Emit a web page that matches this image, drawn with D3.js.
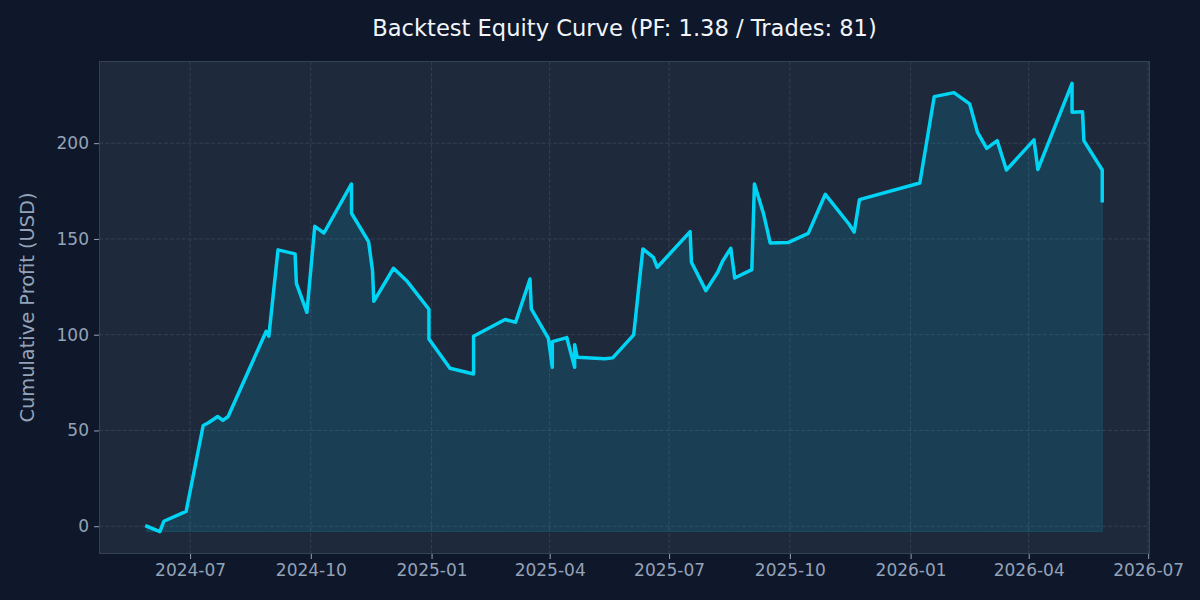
<!DOCTYPE html>
<html>
<head>
<meta charset="utf-8">
<script src="https://cdn.jsdelivr.net/npm/d3@7"></script>
<style>
    body { margin: 0; background: #0f172a; }
    svg { display: block; font-family: "DejaVu Sans", sans-serif; }
</style>
</head>
<body>
<svg id="drawing_region"></svg>
<script>
// Trade close dates and cumulative profit (USD)
const dates = [
    "2024-05-29","2024-06-08","2024-06-11","2024-06-28","2024-07-11","2024-07-15","2024-07-22","2024-07-26",
    "2024-07-30","2024-08-28","2024-08-30","2024-09-06","2024-09-19","2024-09-20","2024-09-28","2024-10-04",
    "2024-10-11","2024-11-01","2024-11-01","2024-11-14","2024-11-17","2024-11-18","2024-12-03","2024-12-13",
    "2024-12-30","2024-12-30","2025-01-15","2025-02-02","2025-02-02","2025-02-26","2025-03-06","2025-03-17",
    "2025-03-18","2025-03-31","2025-04-03","2025-04-03","2025-04-14","2025-04-20","2025-04-20","2025-04-22",
    "2025-05-13","2025-05-19","2025-06-04","2025-06-11","2025-06-19","2025-06-22","2025-07-17","2025-07-18",
    "2025-07-29","2025-08-07","2025-08-11","2025-08-17","2025-08-20","2025-09-02","2025-09-04","2025-09-11",
    "2025-09-16","2025-09-30","2025-10-15","2025-10-28","2025-11-15","2025-11-19","2025-11-23","2026-01-08",
    "2026-01-19","2026-02-03","2026-02-15","2026-02-21","2026-02-28","2026-03-08","2026-03-15","2026-04-05",
    "2026-04-08","2026-05-04","2026-05-04","2026-05-12","2026-05-13","2026-05-27","2026-05-27"
];
const profits = [
    0, -2.8, 2.6, 7.8, 52.6, 54.0, 57.3, 55.3,
    57.3, 101.8, 99.2, 144.3, 142.2, 126.8, 111.7, 156.6,
    153.1, 178.7, 163.4, 148.6, 133.5, 117.4, 134.7, 128.2,
    113.3, 97.8, 82.5, 79.5, 99.2, 107.9, 106.5, 129.1,
    113.5, 98.1, 83.0, 96.4, 98.5, 83.0, 94.8, 88.2,
    87.4, 87.9, 99.9, 144.8, 140.4, 135.2, 153.8, 137.8,
    123.0, 132.6, 138.7, 145.1, 129.6, 134.0, 178.7, 163.0,
    147.9, 148.2, 152.9, 173.3, 157.8, 153.6, 170.5, 179.2,
    224.3, 226.4, 220.5, 205.6, 197.3, 201.3, 186.0, 201.7,
    186.3, 231.2, 216.1, 216.4, 201.3, 186.0, 170.0
];
const yTicks = [0, 50, 100, 150, 200];
const xTickDates = ["2024-07-01","2024-10-01","2025-01-01","2025-04-01","2025-07-01","2025-10-01","2026-01-01","2026-04-01","2026-07-01"];

const parseDate = d3.timeParse("%Y-%m-%d");
const data = dates.map( (d, i) => ({ date: parseDate(d), value: profits[i] }) );

var config = {
    parent: '#drawing_region',
    width: 1200,
    height: 600,
    margin: {top:61, right:50, bottom:46, left:99},
    title: "Backtest Equity Curve (PF: 1.38 / Trades: 81)",
    ylabel: "Cumulative Profit (USD)"
};

class EquityChart {
    constructor( config, data ) {
        this.config = config;
        this.data = data;
        this.line_color = '#00d4f5';
        this.init();
    }

    init() {
        let self = this;
        const m = self.config.margin;

        self.svg = d3.select( self.config.parent )
            .attr('width', self.config.width)
            .attr('height', self.config.height);

        self.svg.append('rect')
            .attr('width', self.config.width)
            .attr('height', self.config.height)
            .attr('fill', '#0f172a');

        self.inner_width = self.config.width - m.left - m.right;
        self.inner_height = self.config.height - m.top - m.bottom;

        self.chart = self.svg.append('g')
            .attr('transform', `translate(${m.left}, ${m.top})`);

        self.chart.append('rect')
            .attr('width', self.inner_width)
            .attr('height', self.inner_height)
            .attr('fill', '#1e293b');

        // matplotlib style 5% margins
        const xext = d3.extent(self.data, d => d.date.getTime());
        const xpad = (xext[1] - xext[0]) * 0.05;
        self.xscale = d3.scaleTime()
            .domain( [new Date(xext[0] - xpad), new Date(xext[1] + xpad)] )
            .range( [0, self.inner_width] );

        const yext = d3.extent(self.data, d => d.value);
        const ypad = (yext[1] - yext[0]) * 0.05;
        self.yscale = d3.scaleLinear()
            .domain( [yext[0] - ypad, yext[1] + ypad] )
            .range( [self.inner_height, 0] );
        self.ymin = yext[0];

        // title is centred over the plot area
        self.svg.append("text")
            .attr("x", m.left + self.inner_width / 2)
            .attr("y", 36)
            .attr("text-anchor", "middle")
            .attr("fill", "#f1f5f9")
            .style("font-size", "22.6px")
            .text(self.config.title);

        self.svg.append("text")
            .attr('transform', 'rotate(-90)')
            .attr("x", -(m.top + self.inner_height / 2))
            .attr("y", 34)
            .attr("text-anchor", "middle")
            .attr("fill", "#94a3b8")
            .style("font-size", "19.4px")
            .text(self.config.ylabel);
    }

    render() {
        let self = this;
        const xt = xTickDates.map(parseDate);

        // grid
        self.chart.append('g').selectAll('line.vgrid')
            .data(xt)
            .join('line')
            .attr('x1', d => self.xscale(d)).attr('x2', d => self.xscale(d))
            .attr('y1', 0).attr('y2', self.inner_height)
            .attr('stroke', '#334155').attr('stroke-width', 1)
            .attr('stroke-dasharray', '4.1,1.8');
        self.chart.append('g').selectAll('line.hgrid')
            .data(yTicks)
            .join('line')
            .attr('x1', 0).attr('x2', self.inner_width)
            .attr('y1', d => self.yscale(d)).attr('y2', d => self.yscale(d))
            .attr('stroke', '#334155').attr('stroke-width', 1)
            .attr('stroke-dasharray', '4.1,1.8');

        const area = d3.area()
            .x(d => self.xscale(d.date))
            .y0(self.yscale(self.ymin))
            .y1(d => self.yscale(d.value));

        self.chart.append('path')
            .datum(self.data)
            .attr('d', area)
            .attr('fill', self.line_color)
            .attr('fill-opacity', 0.13)
            .attr('stroke', self.line_color)
            .attr('stroke-opacity', 0.15)
            .attr('stroke-width', 1);

        const line = d3.line()
            .x(d => self.xscale(d.date))
            .y(d => self.yscale(d.value));

        self.chart.append('path')
            .datum(self.data)
            .attr('d', line)
            .attr('fill', 'none')
            .attr('stroke', self.line_color)
            .attr('stroke-width', 3.5)
            .attr('stroke-linejoin', 'round')
            .attr('stroke-linecap', 'square');

        // axes
        const xaxis = d3.axisBottom(self.xscale)
            .tickValues(xt)
            .tickFormat(d3.timeFormat("%Y-%m"))
            .tickSizeInner(5).tickSizeOuter(0).tickPadding(5);
        const yaxis = d3.axisLeft(self.yscale)
            .tickValues(yTicks)
            .tickSizeInner(5).tickSizeOuter(0).tickPadding(5);

        const xg = self.chart.append('g')
            .attr('transform', `translate(0, ${self.inner_height})`)
            .call(xaxis);
        const yg = self.chart.append('g').call(yaxis);

        [xg, yg].forEach(g => {
            g.select('.domain').remove();
            g.selectAll('.tick line').attr('stroke', '#94a3b8');
            g.selectAll('.tick text')
                .attr('fill', '#94a3b8')
                .style('font-size', '17px')
                .style('font-family', '"DejaVu Sans", sans-serif');
        });

        // spines
        self.chart.append('rect')
            .attr('x', 0.5).attr('y', 0.5)
            .attr('width', self.inner_width - 1)
            .attr('height', self.inner_height - 1)
            .attr('fill', 'none')
            .attr('stroke', '#334155')
            .attr('stroke-width', 1);
    }
}

let equity_chart = new EquityChart( config, data );
equity_chart.render();
</script>
</body>
</html>
